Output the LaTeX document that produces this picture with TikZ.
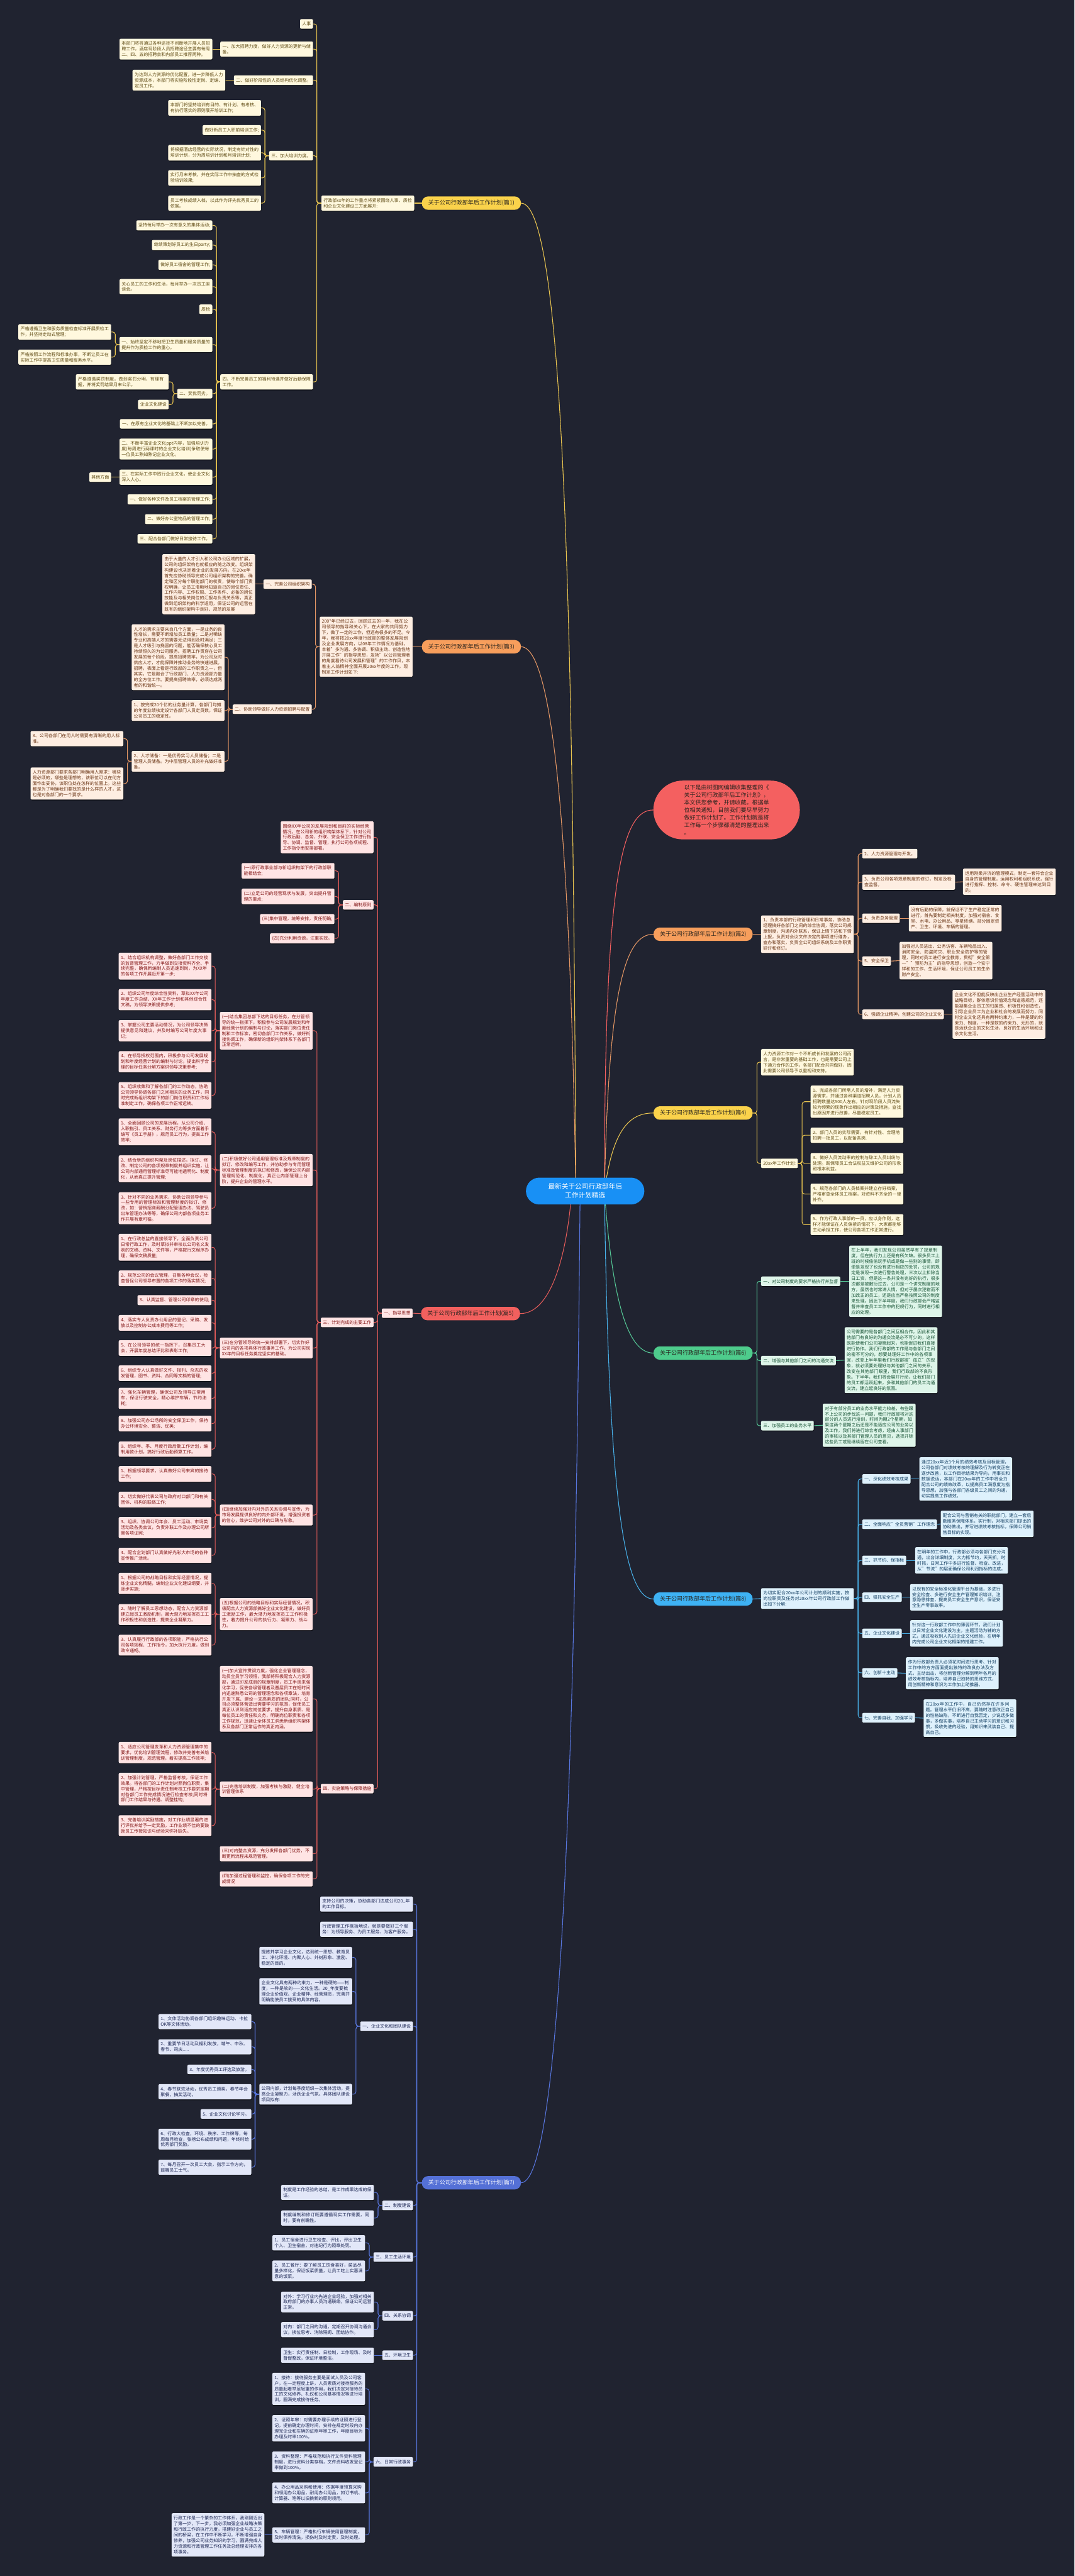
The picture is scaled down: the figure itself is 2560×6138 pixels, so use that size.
\documentclass[tikz,border=0pt]{standalone}
\usepackage{fontspec}
\setmainfont{Noto Sans CJK SC}
\XeTeXlinebreaklocale "zh"
\XeTeXlinebreakskip=0pt plus 1pt
\usetikzlibrary{shadows}
\definecolor{bgc}{RGB}{32,35,48}
\definecolor{yhd}{RGB}{250,210,75}\definecolor{ycn}{RGB}{232,196,80}\definecolor{ylf}{RGB}{255,248,222}\definecolor{ytx}{RGB}{95,75,20}
\definecolor{ohd}{RGB}{247,158,92}\definecolor{ocn}{RGB}{226,150,100}\definecolor{olf}{RGB}{254,238,226}\definecolor{otx}{RGB}{105,52,20}
\definecolor{rhd}{RGB}{242,96,94}\definecolor{rcn}{RGB}{228,92,90}\definecolor{rlf}{RGB}{255,228,228}\definecolor{rtx}{RGB}{130,22,22}
\definecolor{ghd}{RGB}{78,204,140}\definecolor{gcn}{RGB}{85,200,150}\definecolor{glf}{RGB}{222,245,233}\definecolor{gtx}{RGB}{22,82,52}
\definecolor{ihd}{RGB}{84,112,214}\definecolor{icn}{RGB}{88,118,222}\definecolor{ilf}{RGB}{226,231,248}\definecolor{itx}{RGB}{26,36,82}
\definecolor{bhd}{RGB}{62,178,244}\definecolor{bcn}{RGB}{72,176,232}\definecolor{blf}{RGB}{222,241,252}\definecolor{btx}{RGB}{16,60,96}
\definecolor{ctrc}{RGB}{24,144,245}\definecolor{intc}{RGB}{244,96,96}\definecolor{htx}{RGB}{40,36,30}
\newcommand\leaffont{\fontsize{10.5}{13.4}\selectfont}
\newcommand\headfont{\fontsize{13.5}{16}\selectfont}
\newcommand\ctrfont{\fontsize{16}{21}\selectfont}
\newcommand\intfont{\fontsize{13.5}{18}\selectfont}
\pgfdeclarelayer{back}\pgfdeclarelayer{edges}\pgfsetlayers{back,edges,main}
\tikzset{
 base/.style={rectangle,rounded corners=3pt,inner xsep=5pt,inner ysep=6.5pt,font=\leaffont,align=left,
   drop shadow={shadow xshift=0.8pt,shadow yshift=-1.8pt,opacity=0.55,fill=black}},
 wr/.style={text width=211pt},
 ae/.style={anchor=east}, aw/.style={anchor=west},
 Y/.style={base,fill=ylf,text=ytx}, O/.style={base,fill=olf,text=otx}, Rd/.style={base,fill=rlf,text=rtx},
 G/.style={base,fill=glf,text=gtx}, I/.style={base,fill=ilf,text=itx}, B/.style={base,fill=blf,text=btx},
 hd/.style={rectangle,rounded corners=15pt,minimum width=236pt,minimum height=32pt,inner sep=3pt,font=\headfont,text=htx},
 eY/.style={draw=ycn,line width=1.6pt,rounded corners=6pt}, eO/.style={draw=ocn,line width=1.6pt,rounded corners=6pt},
 eR/.style={draw=rcn,line width=1.6pt,rounded corners=6pt}, eG/.style={draw=gcn,line width=1.6pt,rounded corners=6pt},
 eI/.style={draw=icn,line width=1.6pt,rounded corners=6pt}, eB/.style={draw=bcn,line width=1.6pt,rounded corners=6pt},
}
\begin{document}
\begin{tikzpicture}[x=1pt,y=-1pt]
\begin{pgfonlayer}{back}
\fill[bgc] (0,0) rectangle (2560,6138);
\end{pgfonlayer}
\useasboundingbox (0,0) rectangle (2560,6138);
% centre
\node[rectangle,rounded corners=32pt,minimum width=282pt,minimum height=64pt,fill=ctrc,text=white,font=\ctrfont,align=center] (c) at (1394,2838) {最新关于公司行政部年后\\工作计划精选};
% intro
\node[rectangle,rounded corners=70pt,minimum width=349pt,minimum height=140pt,fill=intc,text=htx,font=\intfont,align=left] (intro) at (1731,1930) {以下是由树图网编辑收集整理的《\\关于公司行政部年后工作计划》，\\本文供您参考，并请收藏。根据单\\位相关通知，目前我们要尽早努力\\做好工作计划了。工作计划就是将\\工作每一个步骤都清楚的整理出来\\。};
% headers
\node[hd,fill=yhd] (h1) at (1123,484) {关于公司行政部年后工作计划(篇1)};
\node[hd,fill=ohd] (h2) at (1675,2226) {关于公司行政部年后工作计划(篇2)};
\node[hd,fill=ohd] (h3) at (1123,1541) {关于公司行政部年后工作计划(篇3)};
\node[hd,fill=yhd] (h4) at (1675,2652) {关于公司行政部年后工作计划(篇4)};
\node[hd,fill=rhd] (h5) at (1121,3130) {关于公司行政部年后工作计划(篇5)};
\node[hd,fill=ghd] (h6) at (1675,3224) {关于公司行政部年后工作计划(篇6)};
\node[hd,fill=ihd,text=white] (h7) at (1123,5201) {关于公司行政部年后工作计划(篇7)};
\node[hd,fill=bhd] (h8) at (1675,3810) {关于公司行政部年后工作计划(篇8)};
% ===== 篇1
\node[Y,wr,ae] (n1) at (987,484) {行政部xx年的工作重点将紧紧围绕人事、质检和企业文化建设三方面展开:};
\node[Y,ae] (n1a) at (746,57) {人事};
\node[Y,wr,ae] (n1b) at (746,117) {一、加大招聘力度，做好人力资源的更新与储备。};
\node[Y,wr,ae] (n1b1) at (506,117) {本部门将将通过各种途径不间断地开展人员招聘工作，酒店现阶段人员招聘途径主要有每周二、四、五的招聘会和内部员工推荐两种。};
\node[Y,ae] (n1c) at (746,191) {二、做好阶段性的人员结构优化调整。};
\node[Y,wr,ae] (n1c1) at (537,191) {为达到人力资源的优化配置，进一步降低人力资源成本，本部门将实施阶段性定岗、定编、定员工作。};
\node[Y,ae] (n1d) at (746,371) {三、加大培训力度。};
\node[Y,wr,ae] (n1d1) at (622,257) {本部门将坚持培训有目的、有计划、有考核、有执行落实的原则展开培训工作;};
\node[Y,ae] (n1d2) at (622,310) {做好新员工入职前培训工作;};
\node[Y,wr,ae] (n1d3) at (622,364) {将根据酒店经营的实际状况，制定有针对性的培训计划，分为周培训计划和月培训计划;};
\node[Y,wr,ae] (n1d4) at (622,424) {实行月末考核，并在实际工作中抽查的方式检验培训效果;};
\node[Y,wr,ae] (n1d5) at (622,484) {员工考核成绩入档，以此作为评先优秀员工的依据。};
\node[Y,wr,ae] (n1e) at (746,910) {四、不断完善员工的福利待遇并做好后勤保障工作。};
\node[Y,ae] (e1) at (506,537) {坚持每月举办一次有意义的集体活动;};
\node[Y,ae] (e2) at (506,584) {继续策划好员工的生日party;};
\node[Y,ae] (e3) at (506,631) {做好员工宿舍的管理工作;};
\node[Y,wr,ae] (e4) at (506,683) {关心员工的工作和生活，每月举办一次员工座谈会。};
\node[Y,ae] (e5) at (506,737) {质检};
\node[Y,wr,ae] (e6) at (506,821) {一、始终坚定不移地把卫生质量和服务质量的提升作为质检工作的重心。};
\node[Y,wr,ae] (e6a) at (265,791) {严格遵循卫生和服务质量检查标准开展质检工作，并坚持走动式管理;};
\node[Y,wr,ae] (e6b) at (265,851) {严格按照工作流程和标准办事，不断让员工在实际工作中提高卫生质量和服务水平。};
\node[Y,ae] (e7) at (506,938) {二、奖优罚劣。};
\node[Y,wr,ae] (e7a) at (402,910) {严格遵循奖罚制度，做到奖罚分明，有理有据，并将奖罚结果月末公示。};
\node[Y,ae] (e7b) at (402,964) {企业文化建设};
\node[Y,ae] (e8) at (506,1010) {一、在原有企业文化的基础上不断加以完善。};
\node[Y,wr,ae] (e9) at (506,1070) {二、不断丰富企业文化ppt内容，加强培训力度(每周进行两课时的企业文化培训)争取使每一位员工熟知熟记企业文化。};
\node[Y,wr,ae] (e10) at (506,1137) {三、在实际工作中践行企业文化，使企业文化深入人心。};
\node[Y,ae] (e10a) at (265,1137) {其他方面};
\node[Y,ae] (e11) at (506,1190) {一、做好各种文件及员工档案的管理工作;};
\node[Y,ae] (e12) at (506,1237) {二、做好办公室物品的管理工作;};
\node[Y,ae] (e13) at (506,1284) {三、配合各部门做好日常接待工作。};
% ===== 篇3
\node[O,wr,ae] (n3) at (983,1541) {200*年已经过去，回顾过去的一年，我在公司领导的指导和关心下，在大家的共同努力下，做了一定的工作，但还有很多的不足。今年，我将按20xx年度行政部的整体发展规划及企业发展方向，以08年工作情况为基础，本着"多沟通、多协调、积极主动、创造性地开展工作"的指导思想，发扬"以公司管理者的角度看待公司发展和管理"的工作作风，本着主人翁精神全面开展20xx年度的工作。现制定工作计划如下:};
\node[O,ae] (n3a) at (743,1392) {一、完善公司组织架构};
\node[O,wr,ae] (n3a1) at (608,1392) {由于大量的人才引入和公司办公区域的扩展，公司的组织架构也就相应的随之改变。组织架构建设也决定着企业的发展方向。在20xx年首先应协助领导完成公司组织架构的完善。确定和区分每个职能部门的权责，使每个部门责权明确，让员工清晰地知道自己的岗位责任、工作内容、工作权限、工作条件、必备的岗位技能及与相关岗位的汇报与负责关系等，真正做到组织架构的科学适用，保证公司的运营在既有的组织架构中良好、规范的发展};
\node[O,ae] (n3b) at (743,1690) {二、协助领导做好人力资源招聘与配置};
\node[O,wr,ae] (n3b1) at (535,1566) {人才的需求主要来自几个方面，一是业务的良性增长，需要不断增加员工数量；二是对稀缺专业和高端人才的需要无法得到及时满足；三是人才吸引与挽留的问题，能否确保核心员工持续恒久的为公司服务。招聘工作贯穿在公司发展的每个阶段，提高招聘效率，为公司及时供应人才，才能保障并推动业务的快速进展。招聘，表面上看是行政部的工作职责之一，但其实，它是融合了行政部门、人力资源部力量的全方位工作。要提高招聘效率，必须达成两者的和谐统一。};
\node[O,wr,ae] (n3b2) at (535,1693) {1、按完成20个亿的业务量计算，各部门均摊的年度业绩核定设计各部门人员定员数，保证公司员工的稳定性。};
\node[O,wr,ae] (n3b3) at (535,1814) {2、人才储备：一是优秀实习人员储备；二是管理人员储备。为中层管理人员的补充做好准备。};
\node[O,wr,ae] (n3b3a) at (294,1760) {3、公司各部门在用人时需要有清晰的用人标准。};
\node[O,wr,ae] (n3b3b) at (294,1867) {人力资源部门要求各部门明确用人需求：哪些是必须的，哪些是理想的，该职位可以在何方面作出妥协，该职位处在怎样的位置上。这些都是为了明确我们要找的是什么样的人才，这也是对各部门的一个要求。};
% ===== 篇5
\node[Rd,ae] (n5) at (983,3129) {一、指导思想};
\node[Rd,wr,ae] (n5a) at (890,1995) {围绕XX年公司的发展规划和目前的实际经营情况，在公司新的组织构架体系下，针对公司行政后勤、总务、外联、安全保卫工作进行指导、协调、监督、管理，执行公司各项规程、工作指令而安排部署。};
\node[Rd,ae] (n5b) at (890,2156) {二、编制原则};
\node[Rd,wr,ae] (n5b1) at (797,2075) {(一)原行政事业部与新组织构架下的行政部职能相结合;};
\node[Rd,wr,ae] (n5b2) at (797,2136) {(二)立足公司的经营现状与发展，突出提升管理的重点;};
\node[Rd,ae] (n5b3) at (797,2190) {(三)集中管理，统筹安排，责任明确;};
\node[Rd,ae] (n5b4) at (797,2236) {(四)充分利用资源，注重实效。};
\node[Rd,ae] (n5c) at (890,3151) {三、计划完成的主要工作};
\node[Rd,wr,ae] (n5c1) at (745,2456) {(一)结合集团总部下达的目标任务，在分管领导的统一指挥下，积极参与公司发展规划和年度经营计划的编制与讨论，落实部门岗位责任制和工作标准，密切各部门工作关系，做好衔接协调工作，确保新的组织构架体系下各部门正常运转。};
\node[Rd,wr,ae] (p1) at (504,2302) {1、结合组织机构调整，做好各部门工作交接的监督管理工作，力争做到交接资料齐全、手续完整，确保新编制人员迅速到岗，为XX年的各项工作开展迈开第一步;};
\node[Rd,wr,ae] (p2) at (504,2382) {2、组织公司年度综合性资料，草拟XX年公司年度工作总结、XX年工作计划和其他综合性文稿，为领导决策提供参考;};
\node[Rd,wr,ae] (p3) at (504,2456) {3、掌握公司主要活动情况，为公司领导决策提供意见和建议，并及时编写公司年度大事记;};
\node[Rd,wr,ae] (p4) at (504,2530) {4、在领导授权范围内，积极参与公司发展规划和年度经营计划的编制与讨论，提出科学合理的目标任务分解方案供领导决策参考;};
\node[Rd,wr,ae] (p5) at (504,2610) {5、组织收集和了解各部门的工作动态，协助公司领导协调各部门之间相关的业务工作，同时完成新组织构架下的部门岗位职责和工作标准制定工作，确保各项工作正常运转。};
\node[Rd,wr,ae] (n5c2) at (745,2788) {(二)积极做好公司通用管理标准及规章制度的拟订、修改和编写工作，并协助参与专用管理标准及管理制度的拟订和修改，确保公司内部管理规范化、制度化，真正让内部管理上台阶，提升企业的管理水平。};
\node[Rd,wr,ae] (q1) at (504,2697) {1、全面回顾公司的发展历程，从公司介绍、入职指引、员工关系、财务行为等多方面着手编写《员工手册》，规范员工行为，提高工作效率;};
\node[Rd,wr,ae] (q2) at (504,2785) {2、结合新的组织构架及岗位描述，拟订、修改、制定公司的各项规章制度并组织实施，让公司内部通用管理标准尽可能地透明化、制度化，从而真正提升管理;};
\node[Rd,wr,ae] (q3) at (504,2879) {3、针对不同的业务需求，协助公司领导参与一些专用的管理标准和管理制度的拟订、修改，如：营销招商薪酬分配管理办法、驾驶员出车管理办法等等，确保公司内部各项业务工作开展有章可循。};
\node[Rd,wr,ae] (n5c3) at (745,3212) {(三)在分管领导的统一安排部署下，切实作好公司内的各项具体行政事务工作，为公司实现XX年的目标任务奠定坚实的基础。};
\node[Rd,wr,ae] (r1) at (504,2972) {1、在行政总监的直接领导下，全面负责公司日常行政工作，及时草拟并审核以公司名义发表的文稿、资料、文件等，严格按行文程序办理，确保文稿质量;};
\node[Rd,wr,ae] (r2) at (504,3046) {2、规范公司的会议管理，召集各种会议，检查督促公司领导布置的各项工作的落实情况;};
\node[Rd,ae] (r3) at (504,3098) {3、认真监督、管理公司印章的使用;};
\node[Rd,wr,ae] (r4) at (504,3152) {4、落实专人负责办公用品的登记、采购、发放以及控制办公成本费用等工作;};
\node[Rd,wr,ae] (r5) at (504,3212) {5、在公司领导的统一指挥下，召集员工大会，开展年度总结评比和表彰工作;};
\node[Rd,wr,ae] (r6) at (504,3272) {6、组织专人认真做好文件、报刊、杂志的收发管理，图书、资料、合同等文档的管理;};
\node[Rd,wr,ae] (r7) at (504,3332) {7、强化车辆管理，确保公司及领导正常用车，保证行驶安全，精心维护车辆，节约油耗;};
\node[Rd,wr,ae] (r8) at (504,3392) {8、加强公司办公场所的安全保卫工作，保持办公环境安全、整洁、优美;};
\node[Rd,wr,ae] (r9) at (504,3453) {9、组织年、季、月度行政后勤工作计划，编制用款计划，搞好行政后勤预算工作。};
\node[Rd,wr,ae] (n5c4) at (745,3610) {(四)继续加强对内对外的关系协调与宣传，为市场发展提供良好的内外部环境，增强投资者的信心，维护公司对外的口碑与形象。};
\node[Rd,wr,ae] (s1) at (504,3512) {1、根据领导要求，认真做好公司来宾的接待工作;};
\node[Rd,wr,ae] (s2) at (504,3573) {2、切实做好代表公司与政府对口部门和有关团体、机构的联络工作;};
\node[Rd,wr,ae] (s3) at (504,3640) {3、组织、协调公司年会、员工活动、市场类活动及各类会议，负责外联工作及办理公司所需各项证照;};
\node[Rd,wr,ae] (s4) at (504,3706) {4、配合企划部门认真做好光彩大市场的各种宣传推广活动。};
\node[Rd,wr,ae] (n5c5) at (745,3846) {(五)根据公司的战略目标和实际经营情况，积极配合人力资源部搞好企业文化建设，做好员工激励工作，最大潜力地发挥员工工作积极性，着力提升公司的执行力、凝聚力、战斗力。};
\node[Rd,wr,ae] (t1) at (504,3773) {1、根据公司的战略目标和实际经营情况，提炼企业文化精髓，编制企业文化建设纲要，并逐步实施;};
\node[Rd,wr,ae] (t2) at (504,3847) {2、随时了解员工思想动态，配合人力资源部建立起员工激励机制，最大潜力地发挥员工工作积极性和创造性，提高企业凝聚力。};
\node[Rd,wr,ae] (t3) at (504,3920) {3、认真履行行政部的各项职能，严格执行公司各项规程、工作指令，加大执行力度，做到政令通畅。};
\node[Rd,ae] (n5d) at (890,4262) {四、实施策略与保障措施};
\node[Rd,wr,ae] (n5d1) at (745,4048) {(一)加大宣传贯彻力度，强化企业管理理念，动员全员学习领悟，我部将积极配合人力资源部，通过印发成册的规章制度，员工手册来强化学习，促使各级管理者及基层员工在短时间内迅速熟悉公司的管理理念和各项章法，培育开发下属、建设一支高素质的团队;同时，公司必须整体营造出需要学习的氛围，促使员工真正认识到适应岗位要求，提升自身素质、是每位员工的责任和义务，明确岗位职责和各项工作规范，迅速让全体员工洞悉新组织构架体系及各部门正常运作的真正内涵。};
\node[Rd,wr,ae] (n5d2) at (745,4263) {(二)完善培训制度，加强考核与激励，健全培训管理体系};
\node[Rd,wr,ae] (u1) at (504,4176) {1、适应公司管理变革和人力资源管理集中的要求，优化培训管理流程，修改并完善有关培训管理制度，规范管理，着实提高工作效率;};
\node[Rd,wr,ae] (u2) at (504,4263) {2、加强计划管理，严格监督考核，保证工作效果。将各部门的工作计划对照岗位职责，集中管理，严格按目标责任制考核工作要求定期对各部门工作完成情况进行检查考核;同时将部门工作结果与待遇、调整挂钩;};
\node[Rd,wr,ae] (u3) at (504,4350) {3、完善培训奖励措施，对工作业绩显著的进行评优并给予一定奖励，工作业绩不佳的要鼓励员工传授知识与经验来弥补缺失。};
\node[Rd,wr,ae] (n5d3) at (745,4417) {(三)对内整合资源，充分发挥各部门优势，不断更新流程来规范管理。};
\node[Rd,wr,ae] (n5d4) at (745,4477) {(四)加强过程管理和监控，确保各项工作的完成情况};
% ===== 篇7
\node[I,wr,ae] (n7a) at (984,4537) {支持公司的决策，协助各部门达成公司20\_年的工作目标。};
\node[I,wr,ae] (n7b) at (984,4597) {行政管理工作概括地说，就是要做好三个服务：为领导服务、为员工服务、为客户服务。};
\node[I,ae] (n7c) at (984,4828) {一、企业文化和团队建设};
\node[I,wr,ae] (n7c1) at (839,4664) {提炼并学习企业文化，达到统一思想、教育员工、净化环境、内聚人心、外树形象、激励、稳定的目的。};
\node[I,wr,ae] (n7c2) at (839,4745) {企业文化具有两种约束力，一种是硬的——制度，一种是软的——文化生活。20\_年度要梳理企业价值观、企业精神、经营理念，完善并明确能使员工接受的具体内容。};
\node[I,wr,ae] (n7c3) at (839,4990) {公司内部，计划每季度组织一次集体活动，提高企业凝聚力，活跃企业气氛。具体团队建设项目拟有:};
\node[I,wr,ae] (v1) at (599,4817) {1、文体活动协调各部门组织趣味运动、卡拉OK等文体活动。};
\node[I,wr,ae] (v2) at (599,4877) {2、重要节日活动及福利发放，端午、中秋、春节、司庆.....};
\node[I,ae] (v3) at (599,4931) {3、年度优秀员工评选及旅游。};
\node[I,wr,ae] (v4) at (599,4984) {4、春节联欢活动，优秀员工颁奖，春节年会聚餐，抽奖活动。};
\node[I,ae] (v5) at (599,5037) {5、企业文化讨论学习。};
\node[I,wr,ae] (v6) at (599,5097) {6、行政大检查，环境、秩序、工作牌等，每周每月检查，张榜公布成绩和问题，年终时给优秀部门奖励。};
\node[I,wr,ae] (v7) at (599,5164) {7、每月召开一次员工大会，指示工作方向，鼓舞员工士气。};
\node[I,ae] (n7d) at (984,5255) {二、制度建设};
\node[I,wr,ae] (n7d1) at (891,5224) {制度是工作经验的总结，是工作成果达成的保证。};
\node[I,wr,ae] (n7d2) at (891,5285) {制度编制和修订既要遵循现实工作需要，同时，要有前瞻性。};
\node[I,ae] (n7e) at (984,5378) {三、员工生活环境};
\node[I,wr,ae] (n7e1) at (870,5344) {1、员工宿舍进行卫生检查、评比，评出卫生个人、卫生宿舍，对违纪行为照章处罚。};
\node[I,wr,ae] (n7e2) at (870,5411) {2、员工餐厅：要了解员工饮食喜好，菜品尽量多样化，保证饭菜质量，让员工吃上实惠满意的饭菜。};
\node[I,ae] (n7f) at (984,5518) {四、关系协调};
\node[I,wr,ae] (n7f1) at (891,5485) {对外：学习行业内先进企业经验，加强对相关政府部门的办事人员沟通联络，保证公司运营正常。};
\node[I,wr,ae] (n7f2) at (891,5551) {对内：部门之间的沟通，定期召开协调沟通会议，换位思考、消除隔阂、团结协作。};
\node[I,ae] (n7g) at (984,5612) {五、环境卫生};
\node[I,wr,ae] (n7g1) at (891,5612) {卫生：实行责任制、日检制，工作现场、及时督促整改，保证环境整洁。};
\node[I,ae] (n7h) at (984,5866) {六、日常行政事务};
\node[I,wr,ae] (w1) at (870,5692) {1、接待：接待服务主要是面试人员及公司客户，在一定程度上讲，人员素质对接待服务的质量起着举足轻重的作用，我们决定对接待员工的文化修养、礼仪和公司基本情况等进行培训，圆满完成接待任务。};
\node[I,wr,ae] (w2) at (870,5786) {2、证照年审：对需要办理手续的证照进行登记，提前确定办理时间，安排在规定时段内办理完企业和车辆的证照年审工作，年度目标为办理及时率100\%。};
\node[I,wr,ae] (w3) at (870,5866) {3、资料整理：严格规范和执行文件资料管理制度，进行资料分类存档，文件资料收发登记率做到100\%。};
\node[I,wr,ae] (w4) at (870,5940) {4、办公用品采购和使用：依据年度预算采购和领用办公用品，耐用办公用品，如订书机、计算器、笔等以旧换新的原则领用。};
\node[I,wr,ae] (w5) at (870,6040) {5、车辆管理：严格执行车辆使用管理制度，及时保养清洗，损伤时及时定责，及时处理。};
\node[I,wr,ae] (w5a) at (630,6040) {行政工作是一个繁杂的工作体系，我刚刚迈出了第一步，下一步，我必须加强企业战略决策和行政工作的执行力度，搭建好企业与员工之间的桥梁，在工作中不断学习，不断增强自身修养，加强公司业务知识的学习，圆满完成人力资源和行政管理工作任务及总经理安排的各项事务。};
% ===== 篇2
\node[O,wr,aw] (n2) at (1813,2226) {1、负责本部的行政管理和日常事务，协助总经理搞好各部门之间的综合协调，落实公司规章制度，沟通内外联系，保证上情下达和下情上报，负责对会议文件决定的事项进行催办，查办和落实，负责全公司组织系统及工作职责研讨和修订。};
\node[O,aw] (n2a) at (2054,2034) {2、人力资源管理与开发。};
\node[O,wr,aw] (n2b) at (2054,2102) {3、负责公司各项规章制度的修订，制定及检查监督。};
\node[O,wr,aw] (n2b1) at (2294,2101) {运用刚柔并济的管理模式，制定一套符合企业自身的管理制度，运用权利和组织系统，强行进行指挥、控制、命令、硬性管理来达到目的。};
\node[O,aw] (n2c) at (2054,2188) {4、负责总务管理};
\node[O,wr,aw] (n2c1) at (2165,2188) {没有后勤的保障，就保证不了生产稳定正常的进行。首先要制定相关制度，加强对宿舍、食堂、水电、办公用品、零星修缮、部分固定资产、卫生、环境、车辆的管理。};
\node[O,aw] (n2d) at (2054,2290) {5、安全保卫};
\node[O,wr,aw] (n2d1) at (2143,2289) {加强对人员进出、公务访客、车辆物品出入、消防安全、防盗防灾、职业安全防护等的管理，同时对员工进行安全教育，贯彻"安全第一""预防为主"的指导思想，创造一个安宁祥和的工作、生活环境，保证公司员工的生命财产安全。};
\node[O,aw] (n2e) at (2054,2417) {6、强调企业精神，创建公司的企业文化};
\node[O,wr,aw] (n2e1) at (2269,2417) {企业文化不但能反映出企业生产经营活动中的战略目标，群体意识价值观念和道德规范，还能凝集企业员工的归属感、积极性和创造性，引导企业员工为企业和社会的发展而努力，同时企业文化还具有两种约束力，一种是硬的约束力、制度，一种是软的约束力、无形的，就是活跃企业的文化生活，良好的生活环境和业余文化生活。};
% ===== 篇4
\node[Y,wr,aw] (n4a) at (1813,2531) {人力资源工作对一个不断成长和发展的公司而言，是非常重要的基础工作，也是需要公司上下通力合作的工作。各部门配合共同做好，因此需要公司领导予以重视和支持。};
\node[Y,aw] (n4b) at (1813,2772) {20xx年工作计划:};
\node[Y,wr,aw] (x1) at (1931,2625) {1、完成各部门所需人员的增补，满足人力资源需求，并通过各种渠道招聘人员，计划人员招聘数量达500人左右。针对现阶段人员流失较为频繁的现象作出相应的对策及措施，查找出原因并进行改善，尽量稳定员工。};
\node[Y,wr,aw] (x2) at (1931,2705) {2、部门人员的实际需要，有针对性、合理地招聘一批员工，以配备各岗.};
\node[Y,wr,aw] (x3) at (1931,2772) {3、做好人员流动率的控制与辞工人员纠纷与处理。既保障员工合法权益又维护公司的形象和根本利益。};
\node[Y,wr,aw] (x4) at (1931,2845) {4、规范各部门的人员档案并建立存好档案，严格审查全体员工档案，对资料不齐全的一律补齐。};
\node[Y,wr,aw] (x5) at (1931,2918) {5、作为行政人事部的一员，应以身作则，这样才能保证在人员偏紧的情况下，大家都能够主动承担工作，使公司各项工作正常进行。};
% ===== 篇6
\node[G,aw] (n6a) at (1813,3053) {一、对公司制度的要求严格执行并监督};
\node[G,wr,aw] (n6a1) at (2023,3053) {在上半年，我们发现公司虽然早有了规章制度，但在执行力上还是有所欠缺。很多员工上班的时候偷偷玩手机或是做一些别的事情，即便是发现了也没有进行相应的处罚，公司的规定是发现一次进行警告处理，三次以上扣除当日工资，但是这一条并没有完好的执行，很多次都是被敷衍过去，公司是一个讲究制度的地方，虽然也时常讲人情，但对于屡次犯错而不加改正的员工，还是应当严格按照公司的制度来处理。因此下半年度，我们行政部会严格监督并审查员工工作中的犯规行为，同时进行相应的处理。};
\node[G,aw] (n6b) at (1813,3242) {二、增强与其他部门之间的沟通交流};
\node[G,wr,aw] (n6b1) at (2012,3241) {公司需要的是各部门之间互相合作，因此和其他部门有良好的沟通交流是必不可少的，这样既能使我们公司凝聚起来，也能促进我们直接进行协作。我们行政部的工作是与各部门之间的密不可分的，想要处理好工作中的各项事宜，改变上半年里我们行政部被"孤立"的现象，就必须要处理好与其他部门之间的关系，改变在其他部门眼里，我们行政部的不良形象。下半年，我们将会展开行动，让我们部门的员工都活跃起来，多和其他部门的员工沟通交流，建立起良好的氛围。};
\node[G,aw] (n6c) at (1813,3397) {三、加强员工的业务水平};
\node[G,wr,aw] (n6c1) at (1960,3396) {对于有部分员工的业务水平能力较差，有些跟不上公司的步伐这一问题，我们行政部将对这部分的人员进行培训，时间为期2个星期，如果这两个星期之后还是不能适应公司的业务以及工作，我们将进行综合考虑，经由人事部门的审核以及其部门管理人员的意见，选择开除这些员工或是继续留在公司查看。};
% ===== 篇8
\node[B,wr,aw] (n8) at (1813,3809) {为切实配合20xx年公司计划的顺利实施，按岗位职责及任务对20xx年公司行政部工作做出如下分解:};
\node[B,aw] (n8a) at (2054,3524) {一、深化绩效考核成果};
\node[B,wr,aw] (n8a1) at (2190,3524) {通过20xx年近3个月的绩效考核及目标管理，公司各部门对绩效考核的理解及行为转变正在逐步改善，以工作目标结果为导向，用事实和数据说话，本部门在20xx年的工作中将全力配合公司的绩效改革，以提高员工满意度为指导思想，加强与各部门各级员工之间的沟通，切实提高工作绩效。};
\node[B,aw] (n8b) at (2054,3632) {二、全面响应"全员营销"工作理念};
\node[B,wr,aw] (n8b1) at (2241,3631) {配合公司与营销有关的职能部门，建立一套后勤服务保障体系，实行制，对相关部门提出的协助做出，并写进绩效考核指标，保障公司销售目标的实现。};
\node[B,aw] (n8c) at (2054,3718) {三、抓节约、保指标};
\node[B,wr,aw] (n8c1) at (2180,3718) {在明年的工作中，行政部必须与各部门充分沟通，出台详细制度，大力抓节约，天天抓，时时抓，日常工作中多进行监督、检查、改进，从"节流"的层面确保公司利润指标的达成。};
\node[B,aw] (n8d) at (2054,3806) {四、狠抓安全生产};
\node[B,wr,aw] (n8d1) at (2168,3806) {以现有的安全标准化管理平台为基础，多进行安全检查、多进行安全生产管理知识培训，注意隐患排查，提高员工安全生产意识，保证安全生产零事故率。};
\node[B,aw] (n8e) at (2054,3892) {五、企业文化建设};
\node[B,wr,aw] (n8e1) at (2168,3892) {针对这一行政部工作中的薄弱环节，我们计划以日常企业文化建设为主，主题活动为辅的方式，通过吸收别人先进企业文化经验，在明年内完成公司企业文化框架的搭建工作。};
\node[B,aw] (n8f) at (2054,3986) {六、创新十主动};
\node[B,wr,aw] (n8f1) at (2158,3987) {作为行政部负责人必须花时间进行思考、针对工作中的方方面面提出独特的改良办法及方式，主动出击，将创新管理分解到明年各月的绩效考核指标内，培养自己独特的思维方式，用创新精神和意识为工作加上助推器。};
\node[B,aw] (n8g) at (2054,4093) {七、完善自我、加强学习};
\node[B,wr,aw] (n8g1) at (2200,4094) {在20xx年的工作中，自己仍然存在许多问题。管理水平仍旧不高，要随时注意改正自己的性格缺陷，不断进行自我否定，少说话多做事，多做实事，培养自己主动学习的意识和习惯，吸收先进的经验，用知识来武装自己、提高自己。};
% ===== connectors
\begin{pgfonlayer}{edges}
\draw[eY] (h1.east) .. controls (1345,484) and (1365,1500) .. (1372,2838);
\draw[eO] (h3.east) .. controls (1340,1541) and (1362,2300) .. (1372,2838);
\draw[eR] (h5.east) .. controls (1310,3130) and (1350,3000) .. (1362,2838);
\draw[eI] (h7.east) .. controls (1345,5201) and (1372,4000) .. (1382,2838);
\draw[draw=intc,line width=1.6pt] (1440,2838) .. controls (1440,2100) and (1480,1929) .. (intro.west);
\draw[eO] (1440,2838) .. controls (1450,2350) and (1490,2226) .. (h2.west);
\draw[eY] (1440,2838) .. controls (1460,2690) and (1500,2652) .. (h4.west);
\draw[eG] (1440,2838) .. controls (1460,3120) and (1500,3224) .. (h6.west);
\draw[eB] (1440,2838) .. controls (1450,3600) and (1490,3810) .. (h8.west);
% 篇1
\draw[eY] (h1.west) -- (n1.east);
\foreach \k in {n1a,n1b,n1c,n1d,n1e} \draw[eY] (n1.west) -- ++(-11,0) |- (\k.east);
\draw[eY] (n1b.west) -- (n1b1.east);
\draw[eY] (n1c.west) -- (n1c1.east);
\foreach \k in {n1d1,n1d2,n1d3,n1d4,n1d5} \draw[eY] (n1d.west) -- ++(-10,0) |- (\k.east);
\foreach \k in {e1,e2,e3,e4,e5,e6,e7,e8,e9,e10,e11,e12,e13} \draw[eY] (n1e.west) -- ++(-9,0) |- (\k.east);
\foreach \k in {e6a,e6b} \draw[eY] (e6.west) -- ++(-10,0) |- (\k.east);
\foreach \k in {e7a,e7b} \draw[eY] (e7.west) -- ++(-10,0) |- (\k.east);
\draw[eY] (e10.west) -- (e10a.east);
% 篇3
\draw[eO] (h3.west) -- (n3.east);
\foreach \k in {n3a,n3b} \draw[eO] (n3.west) -- ++(-10,0) |- (\k.east);
\draw[eO] (n3a.west) -- (n3a1.east);
\foreach \k in {n3b1,n3b2,n3b3} \draw[eO] (n3b.west) -- ++(-10,0) |- (\k.east);
\foreach \k in {n3b3a,n3b3b} \draw[eO] (n3b3.west) -- ++(-10,0) |- (\k.east);
% 篇5
\draw[eR] (h5.west) -- (n5.east);
\foreach \k in {n5a,n5b,n5c,n5d} \draw[eR] (n5.west) -- ++(-10,0) |- (\k.east);
\foreach \k in {n5b1,n5b2,n5b3,n5b4} \draw[eR] (n5b.west) -- ++(-10,0) |- (\k.east);
\foreach \k in {n5c1,n5c2,n5c3,n5c4,n5c5} \draw[eR] (n5c.west) -- ++(-9,0) |- (\k.east);
\foreach \k in {p1,p2,p3,p4,p5} \draw[eR] (n5c1.west) -- ++(-11,0) |- (\k.east);
\foreach \k in {q1,q2,q3} \draw[eR] (n5c2.west) -- ++(-11,0) |- (\k.east);
\foreach \k in {r1,r2,r3,r4,r5,r6,r7,r8,r9} \draw[eR] (n5c3.west) -- ++(-11,0) |- (\k.east);
\foreach \k in {s1,s2,s3,s4} \draw[eR] (n5c4.west) -- ++(-11,0) |- (\k.east);
\foreach \k in {t1,t2,t3} \draw[eR] (n5c5.west) -- ++(-11,0) |- (\k.east);
\foreach \k in {n5d1,n5d2,n5d3,n5d4} \draw[eR] (n5d.west) -- ++(-9,0) |- (\k.east);
\foreach \k in {u1,u2,u3} \draw[eR] (n5d2.west) -- ++(-11,0) |- (\k.east);
% 篇7
\foreach \k in {n7a,n7b,n7c,n7d,n7e,n7f,n7g,n7h} \draw[eI] (h7.west) -- ++(-12,0) |- (\k.east);
\foreach \k in {n7c1,n7c2,n7c3} \draw[eI] (n7c.west) -- ++(-10,0) |- (\k.east);
\foreach \k in {v1,v2,v3,v4,v5,v6,v7} \draw[eI] (n7c3.west) -- ++(-10,0) |- (\k.east);
\foreach \k in {n7d1,n7d2} \draw[eI] (n7d.west) -- ++(-10,0) |- (\k.east);
\foreach \k in {n7e1,n7e2} \draw[eI] (n7e.west) -- ++(-10,0) |- (\k.east);
\foreach \k in {n7f1,n7f2} \draw[eI] (n7f.west) -- ++(-10,0) |- (\k.east);
\draw[eI] (n7g.west) -- (n7g1.east);
\foreach \k in {w1,w2,w3,w4,w5} \draw[eI] (n7h.west) -- ++(-10,0) |- (\k.east);
\draw[eI] (w5.west) -- (w5a.east);
% 篇2
\draw[eO] (h2.east) -- (n2.west);
\foreach \k in {n2a,n2b,n2c,n2d,n2e} \draw[eO] (n2.east) -- ++(10,0) |- (\k.west);
\draw[eO] (n2b.east) -- (n2b1.west);
\draw[eO] (n2c.east) -- (n2c1.west);
\draw[eO] (n2d.east) -- (n2d1.west);
\draw[eO] (n2e.east) -- (n2e1.west);
% 篇4
\foreach \k in {n4a,n4b} \draw[eY] (h4.east) -- ++(10,0) |- (\k.west);
\foreach \k in {x1,x2,x3,x4,x5} \draw[eY] (n4b.east) -- ++(10,0) |- (\k.west);
% 篇6
\foreach \k in {n6a,n6b,n6c} \draw[eG] (h6.east) -- ++(10,0) |- (\k.west);
\draw[eG] (n6a.east) -- (n6a1.west);
\draw[eG] (n6b.east) -- (n6b1.west);
\draw[eG] (n6c.east) -- (n6c1.west);
% 篇8
\draw[eB] (h8.east) -- (n8.west);
\foreach \k in {n8a,n8b,n8c,n8d,n8e,n8f,n8g} \draw[eB] (n8.east) -- ++(10,0) |- (\k.west);
\draw[eB] (n8a.east) -- (n8a1.west);
\draw[eB] (n8b.east) -- (n8b1.west);
\draw[eB] (n8c.east) -- (n8c1.west);
\draw[eB] (n8d.east) -- (n8d1.west);
\draw[eB] (n8e.east) -- (n8e1.west);
\draw[eB] (n8f.east) -- (n8f1.west);
\draw[eB] (n8g.east) -- (n8g1.west);
\end{pgfonlayer}
\end{tikzpicture}
\end{document}
